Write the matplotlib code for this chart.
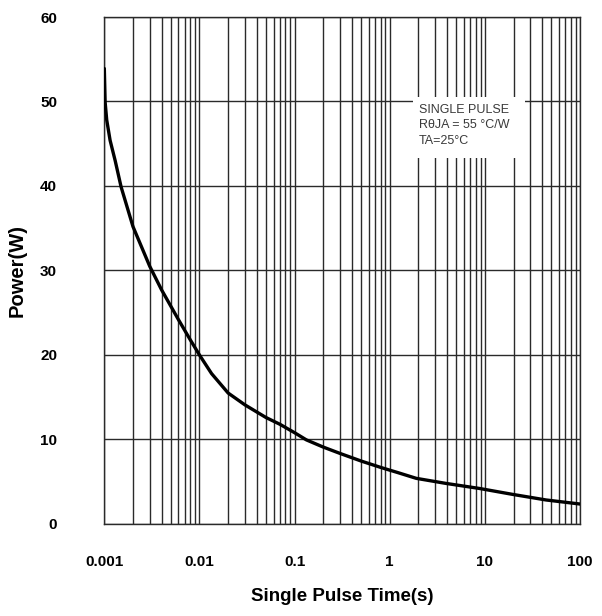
import matplotlib
matplotlib.use("Agg")
import matplotlib.pyplot as plt
from matplotlib.ticker import LogLocator, NullFormatter, FixedLocator
from matplotlib.patches import Rectangle
import numpy as np

# Data
time_s = [0.001, 0.00102, 0.00106, 0.00115, 0.0013, 0.0015, 0.002, 0.003,
          0.004, 0.006, 0.008, 0.01, 0.0134, 0.02, 0.03, 0.05, 0.07, 0.1,
          0.133, 0.2, 0.3, 0.5, 0.8, 1.2, 1.9, 3.9, 8.8, 19.6, 44, 100]
power_w = [53.9, 49.9, 47.8, 45.4, 43.0, 39.9, 35.2, 30.5,
           27.7, 24.2, 21.8, 20.0, 17.8, 15.5, 14.1, 12.6, 11.8, 10.8,
           9.95, 9.1, 8.35, 7.45, 6.7, 6.1, 5.4, 4.8, 4.2, 3.5, 2.84, 2.36]
x_ticks = [0.001, 0.01, 0.1, 1, 10, 100]
x_tick_labels = ["0.001", "0.01", "0.1", "1", "10", "100"]
y_ticks = [0, 10, 20, 30, 40, 50, 60]
note_lines = ["SINGLE PULSE", "R\u03b8JA = 55 \u00b0C/W", "TA=25\u00b0C"]

sans = ["Liberation Sans", "DejaVu Sans"]

fig = plt.figure(figsize=(6.02, 6.16), dpi=100)
ax = fig.add_axes([0.1733, 0.1494, 0.9635 - 0.1733, 0.9724 - 0.1494])

ax.set_xscale("log")
ax.set_xlim(0.001, 100)
ax.set_ylim(0, 60)

ax.xaxis.set_major_locator(FixedLocator(x_ticks))
ax.set_xticklabels(x_tick_labels)
ax.xaxis.set_minor_locator(LogLocator(base=10, subs=np.arange(2, 10)))
ax.xaxis.set_minor_formatter(NullFormatter())
ax.set_yticks(y_ticks)

ax.grid(True, which="major", axis="both", color="#2a2a2a", linewidth=1.0, zorder=1)
ax.grid(True, which="minor", axis="x", color="#2a2a2a", linewidth=1.0, zorder=1)
ax.set_axisbelow(True)

for s in ax.spines.values():
    s.set_color("#2a2a2a")
    s.set_linewidth(1.0)

ax.tick_params(axis="both", which="both", length=0)
ax.tick_params(axis="y", pad=34)
ax.tick_params(axis="x", pad=22)
for lab in ax.get_xticklabels() + ax.get_yticklabels():
    lab.set_fontfamily(sans)
    lab.set_fontweight("bold")
    lab.set_fontsize(11)

ax.plot(time_s, power_w, color="black", linewidth=2.4, zorder=4,
        solid_capstyle="round", solid_joinstyle="round")

# white note box (hides the grid behind it)
ax.add_patch(Rectangle((0.649, 0.722), 0.235, 0.12, transform=ax.transAxes,
                       facecolor="white", edgecolor="none", zorder=2.5))
ax.text(0.661, 0.829, "\n".join(note_lines), transform=ax.transAxes,
        fontfamily=sans, fontsize=9, color="#3a3a3a", va="top", ha="left",
        linespacing=1.4, zorder=3)

ax.set_xlabel("Single Pulse Time(s)", fontfamily=sans, fontweight="bold",
              fontsize=13.5, labelpad=14)
ax.set_ylabel("Power(W)", fontfamily=sans, fontweight="bold",
              fontsize=14.5, labelpad=10)

fig.savefig("out.png", dpi=100)
